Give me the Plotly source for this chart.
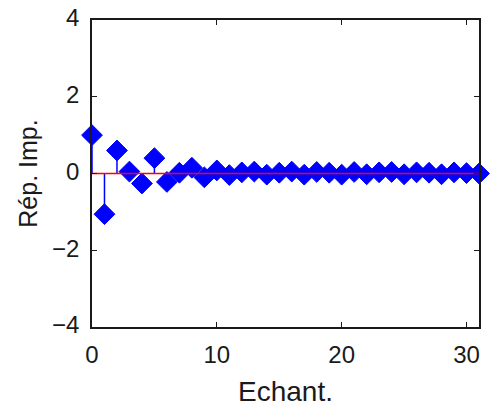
import plotly.graph_objects as go

samples = list(range(32))
response = [1.0, -1.06, 0.6, 0.05, -0.26, 0.4, -0.22, 0.02, 0.15, -0.1,
            0.08, -0.04, 0.03, 0.05, -0.03, 0.02, 0.05, -0.03, 0.04, 0.02,
            -0.03, 0.04, -0.02, 0.03, 0.04, -0.02, 0.03, 0.02, -0.02, 0.03,
            0.01, 0.0]
x_ticks = [0, 10, 20, 30]
y_ticks = [-4, -2, 0, 2, 4]

stem_x, stem_y = [], []
for n, v in zip(samples, response):
    stem_x += [n, n, None]
    stem_y += [0, v, None]

fig = go.Figure()
fig.add_trace(go.Scatter(x=stem_x, y=stem_y, mode="lines",
                         line=dict(color="#0000ff", width=1.5),
                         hoverinfo="skip", showlegend=False))
fig.add_trace(go.Scatter(x=samples, y=response, mode="markers",
                         marker=dict(symbol="diamond", size=16, color="#0000ff",
                                     line=dict(color="#0000ff", width=1)),
                         showlegend=False, cliponaxis=False))
fig.add_trace(go.Scatter(x=[samples[0], samples[-1]], y=[0, 0], mode="lines",
                         line=dict(color="#ff0000", width=1.5),
                         showlegend=False))

family = "Liberation Sans, Arial, sans-serif"
fig.update_layout(
    width=492, height=410,
    margin=dict(l=92, r=13, t=20, b=83),
    paper_bgcolor="white", plot_bgcolor="white",
    font=dict(family=family, size=24, color="#1a1a1a"),
)
fig.update_xaxes(range=[0, 31], tickvals=x_ticks, ticks="inside", ticklen=5,
                 tickcolor="#1a1a1a", showline=True, linecolor="#1a1a1a",
                 linewidth=1.5, mirror="ticks", showgrid=False, zeroline=False,
                 automargin=False, ticklabeloverflow="allow",
                 title=dict(text="Echant.", standoff=15,
                            font=dict(family=family, size=28, color="#1a1a1a")),
                 ticklabelstandoff=5)
fig.update_yaxes(range=[-4, 4], tickvals=y_ticks, ticks="inside", ticklen=5,
                 tickcolor="#1a1a1a", showline=True, linecolor="#1a1a1a",
                 linewidth=1.5, mirror="ticks", showgrid=False, zeroline=False,
                 automargin=False, ticklabeloverflow="allow",
                 title=dict(text="Rép. Imp.", standoff=7,
                            font=dict(family=family, size=25, color="#1a1a1a")),
                 ticklabelstandoff=6, ticklabelshift=-2)

fig.write_html("out.html", config={"displayModeBar": False},
               post_script="document.body.style.margin='0';")
